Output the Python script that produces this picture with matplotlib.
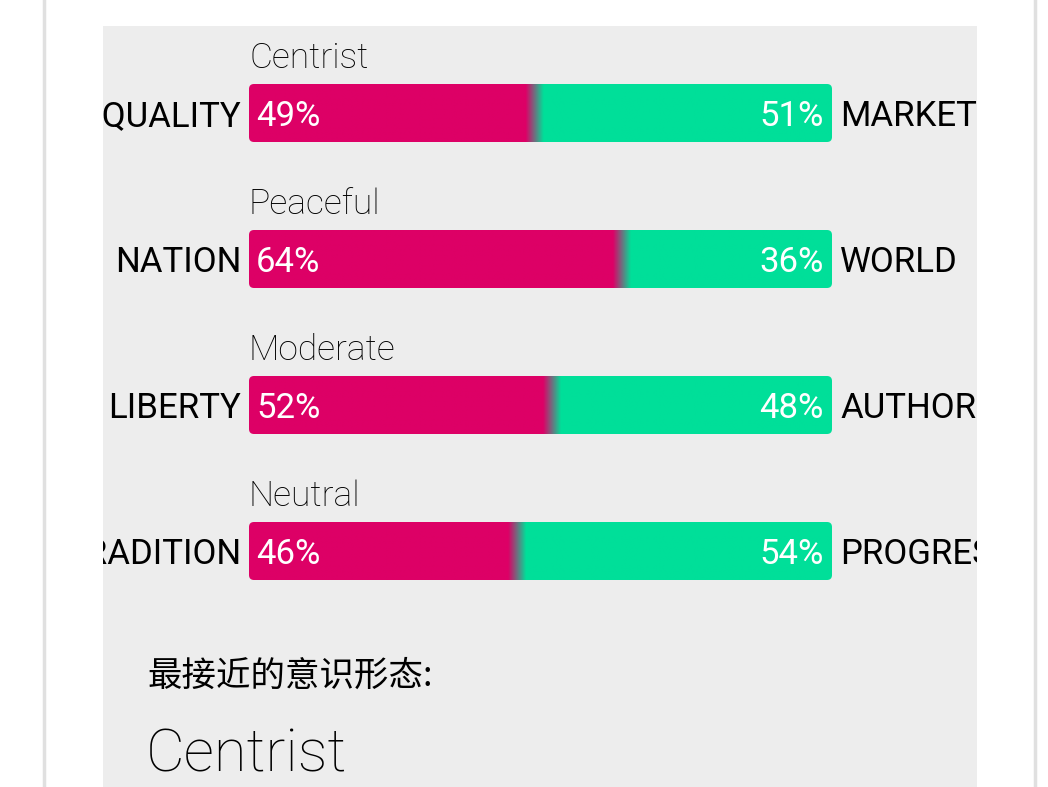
import numpy as np
import matplotlib.pyplot as plt
from matplotlib.patches import FancyBboxPatch

# data
axes_titles = ['Centrist', 'Peaceful', 'Moderate', 'Neutral']
left_labels = ['EQUALITY', 'NATION', 'LIBERTY', 'TRADITION']
right_labels = ['MARKETS', 'WORLD', 'AUTHORITY', 'PROGRESS']
left_values = [49, 64, 52, 46]
right_values = [51, 36, 48, 54]
closest_label = '最接近的意识形态:'
closest_ideology = 'Centrist'

rood = np.array([0xDD, 0x00, 0x66]) / 255
groen = np.array([0x00, 0xDF, 0x99]) / 255

W, H = 1048, 787
fig = plt.figure(figsize=(W / 100, H / 100), dpi=100)
fig.patch.set_facecolor('white')

# achtergrond met grijze lijnen
bg = fig.add_axes([0, 0, 1, 1])
bg.set_xlim(0, W)
bg.set_ylim(H, 0)
bg.axis('off')
bg.axvline(44, color='#E0E0E0', lw=2.5)
bg.axvline(1035, color='#E0E0E0', lw=2.5)

# grijs paneel
px0, px1, py0 = 103, 977, 26
ax = fig.add_axes([px0 / W, 0, (px1 - px0) / W, (H - py0) / H])
ax.set_facecolor('#EDEDED')
for s in ax.spines.values():
    s.set_visible(False)
ax.set_xticks([])
ax.set_yticks([])

bar_x0, bar_x1 = 249, 832
bar_h = 58
bar_top0 = 84
stap = 146
fade = 18

nx = 600
for i in range(len(axes_titles)):
    top = bar_top0 + i * stap
    split = bar_x0 + left_values[i] / 100 * (bar_x1 - bar_x0)
    xs = np.linspace(bar_x0, bar_x1, nx)
    t = np.clip((xs - split) / fade + 0.5, 0, 1)
    kleuren = rood[None, :] * (1 - t[:, None]) + groen[None, :] * t[:, None]
    img = np.repeat(kleuren[None, :, :], 2, axis=0)
    vorm = FancyBboxPatch((bar_x0, top), bar_x1 - bar_x0, bar_h,
                          boxstyle='round,pad=0,rounding_size=5',
                          facecolor='none', edgecolor='none')
    ax.add_patch(vorm)
    im = ax.imshow(img, extent=(bar_x0, bar_x1, top + bar_h, top),
                   aspect='auto', interpolation='bilinear')
    im.set_clip_path(vorm)

    basis = top + 42.5
    ax.text(bar_x0, top - 16, axes_titles[i], fontsize=25.5, family='Roboto',
            fontweight='light', va='baseline', ha='left', color='black', clip_on=True)
    ax.text(241, basis, left_labels[i], fontsize=25, family='Roboto',
            va='baseline', ha='right', color='black', clip_on=True)
    ax.text(840, basis, right_labels[i], fontsize=25, family='Roboto',
            va='baseline', ha='left', color='black', clip_on=True)
    ax.text(256, basis, f'{left_values[i]}%', fontsize=25, family='Roboto',
            va='baseline', ha='left', color='white', clip_on=True)
    ax.text(824, basis, f'{right_values[i]}%', fontsize=25, family='Roboto',
            va='baseline', ha='right', color='white', clip_on=True)

ax.text(147, 676, closest_label, fontsize=24.8, family=['Noto Sans CJK SC', 'DejaVu Sans'],
        fontweight='light', va='center', ha='left', color='black', clip_on=True)
ax.text(146, 771, closest_ideology, fontsize=43, family='Roboto', fontweight='light',
        va='baseline', ha='left', color='black', clip_on=True)

ax.set_xlim(px0, px1)
ax.set_ylim(H, py0)

fig.savefig('out.png', dpi=100)
